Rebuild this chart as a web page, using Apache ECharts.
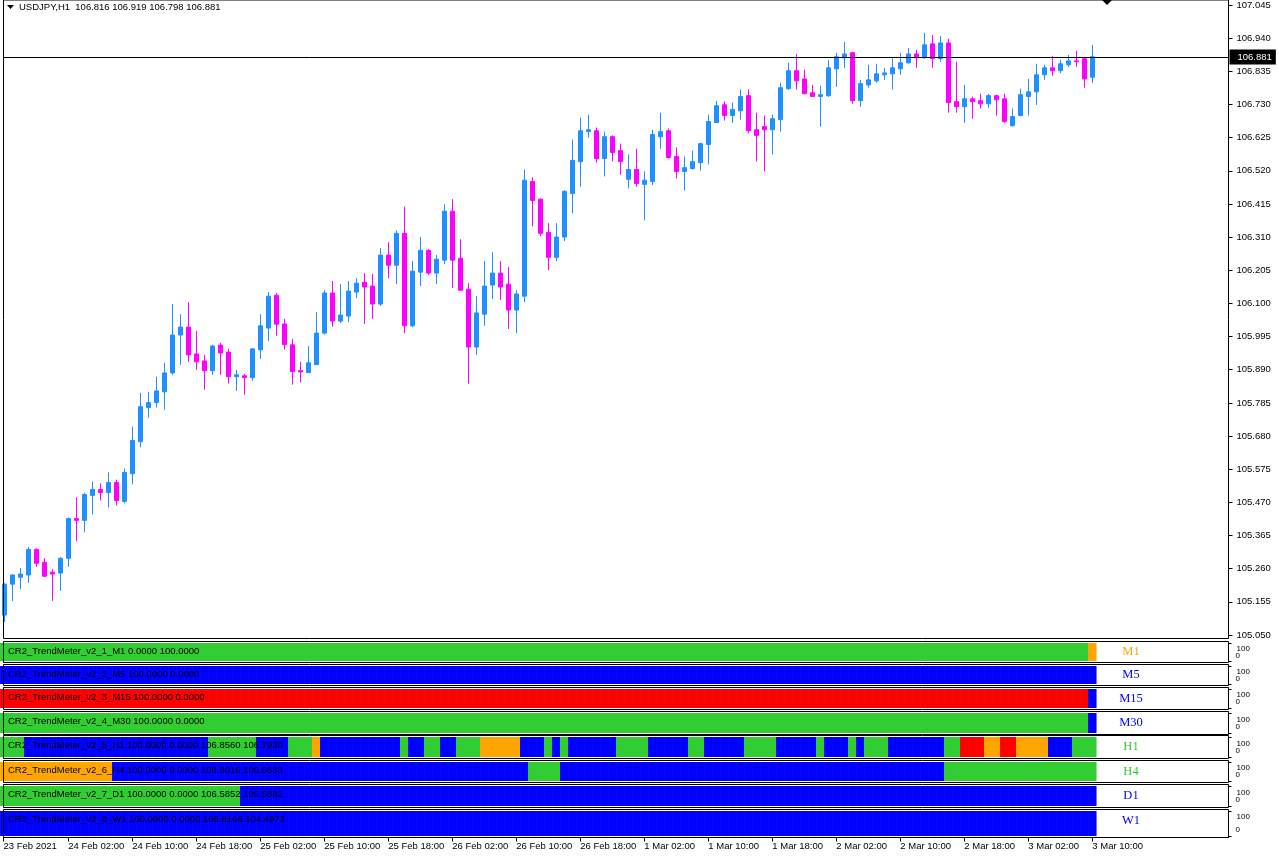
<!DOCTYPE html>
<html><head><meta charset="utf-8">
<script src="https://cdn.jsdelivr.net/npm/echarts@6/dist/echarts.min.js"></script>
<style>html,body{margin:0;padding:0;background:#fff}#c{width:1279px;height:857px}</style>
</head><body><div id="c"></div>
<script>
// ---------------- data ----------------
const symbolName = 'USDJPY,H1';
const open = [105.113,105.211,105.233,105.240,105.321,105.280,105.249,105.246,105.293,105.419,
105.413,105.492,105.511,105.501,105.533,105.473,105.561,105.662,105.770,105.786,
105.820,105.880,106.000,106.025,105.940,105.918,105.887,105.968,105.946,105.868,
105.871,105.865,105.953,106.022,106.126,106.035,105.969,105.887,105.881,105.906,
106.006,106.133,106.044,106.060,106.136,106.167,106.155,106.098,106.253,106.221,
106.322,106.029,106.199,106.268,106.196,106.237,106.392,106.243,106.145,105.962,
106.066,106.158,106.196,106.161,106.079,106.123,106.486,106.430,106.325,106.246,
106.310,106.448,106.549,106.644,106.647,106.559,106.628,106.584,106.493,106.524,
106.477,106.486,106.628,106.647,106.565,106.518,106.527,106.546,106.603,106.673,
106.729,106.695,106.710,106.758,106.650,106.660,106.650,106.682,106.780,106.837,
106.811,106.767,106.755,106.758,106.843,106.878,106.894,106.742,106.792,106.805,
106.824,106.827,106.843,106.862,106.890,106.878,106.922,106.875,106.925,106.739,
106.723,106.748,106.742,106.732,106.758,106.748,106.663,106.695,106.755,106.770,
106.824,106.846,106.837,106.856,106.868,106.875,106.816];
const high = [105.214,105.243,105.262,105.328,105.325,105.293,105.258,105.296,105.422,105.486,
105.501,105.536,105.530,105.565,105.542,105.577,105.710,105.817,105.820,105.868,
105.912,106.098,106.066,106.104,106.013,105.937,105.969,105.975,105.956,105.890,
105.877,105.959,106.066,106.136,106.133,106.051,105.988,105.915,105.965,106.073,
106.142,106.171,106.161,106.171,106.180,106.196,106.193,106.275,106.294,106.332,
106.407,106.234,106.310,106.272,106.253,106.414,106.430,106.303,106.164,106.123,
106.234,106.262,106.234,106.215,106.142,106.524,106.499,106.433,106.354,106.354,
106.458,106.619,106.688,106.698,106.657,106.644,106.632,106.606,106.572,106.590,
106.518,106.650,106.704,106.654,106.594,106.565,106.584,106.609,106.698,106.742,
106.739,106.736,106.777,106.777,106.704,106.695,106.698,106.799,106.862,106.890,
106.840,106.792,106.789,106.871,106.894,106.928,106.897,106.808,106.856,106.859,
106.846,106.881,106.894,106.909,106.903,106.957,106.950,106.947,106.938,106.865,
106.792,106.755,106.764,106.764,106.761,106.764,106.717,106.780,106.811,106.859,
106.856,106.884,106.871,106.887,106.900,106.881,106.919];
const low = [105.091,105.158,105.196,105.215,105.266,105.233,105.158,105.190,105.266,105.347,
105.375,105.432,105.476,105.454,105.460,105.467,105.527,105.644,105.738,105.770,
105.763,105.874,105.906,105.915,105.890,105.827,105.874,105.874,105.846,105.823,
105.811,105.855,105.924,105.981,105.998,105.954,105.843,105.850,105.880,105.905,
106.001,106.026,106.038,106.041,106.117,106.035,106.051,106.092,106.180,106.161,
106.006,106.025,106.155,106.190,106.161,106.224,106.149,106.139,105.846,105.937,
106.029,106.114,106.111,106.019,106.006,106.104,106.344,106.313,106.205,106.234,
106.297,106.385,106.470,106.625,106.546,106.502,106.549,106.508,106.464,106.470,
106.363,106.475,106.590,106.559,106.496,106.458,106.524,106.521,106.540,106.672,
106.679,106.672,106.682,106.638,106.549,106.518,106.572,106.644,106.777,106.777,
106.763,106.754,106.660,106.754,106.786,106.846,106.732,106.723,106.783,106.799,
106.808,106.777,106.824,106.859,106.846,106.875,106.846,106.865,106.704,106.704,
106.672,106.685,106.717,106.720,106.695,106.672,106.660,106.692,106.695,106.729,
106.808,106.821,106.830,106.849,106.849,106.783,106.798];
const close = [105.211,105.240,105.243,105.321,105.277,105.236,105.243,105.293,105.419,105.413,
105.495,105.511,105.501,105.533,105.476,105.565,105.666,105.773,105.786,105.823,
105.880,106.000,106.025,105.937,105.915,105.887,105.965,105.943,105.868,105.874,
105.865,105.956,106.029,106.123,106.034,105.970,105.884,105.883,105.912,106.006,
106.133,106.044,106.063,106.139,106.164,106.152,106.098,106.253,106.221,106.322,
106.029,106.202,106.268,106.196,106.240,106.392,106.237,106.142,105.962,106.070,
106.155,106.196,106.152,106.079,106.130,106.490,106.426,106.322,106.246,106.310,
106.455,106.553,106.647,106.650,106.559,106.628,106.578,106.549,106.524,106.480,
106.490,106.635,106.644,106.562,106.518,106.530,106.549,106.606,106.676,106.726,
106.695,106.714,106.755,106.647,106.632,106.650,106.685,106.783,106.837,106.805,
106.764,106.755,106.761,106.846,106.881,106.890,106.742,106.796,106.808,106.827,
106.830,106.846,106.862,106.890,106.878,106.919,106.875,106.925,106.736,106.723,
106.748,106.739,106.732,106.758,106.745,106.676,106.692,106.761,106.770,106.824,
106.846,106.837,106.859,106.868,106.865,106.811,106.881];
const timeLabels = ['23 Feb 2021','24 Feb 02:00','24 Feb 10:00','24 Feb 18:00','25 Feb 02:00',
  '25 Feb 10:00','25 Feb 18:00','26 Feb 02:00','26 Feb 10:00','26 Feb 18:00','1 Mar 02:00',
  '1 Mar 10:00','1 Mar 18:00','2 Mar 02:00','2 Mar 10:00','2 Mar 18:00','3 Mar 02:00','3 Mar 10:00'];
const barsPerTimeLabel = 8;
const priceMin = 105.050, priceMax = 107.045, priceStep = 0.105;
const panelScale = ['100','0'];   // indicator windows' max / min labels

const panelNames = ['M1','M5','M15','M30','H1','H4','D1','W1'];
const panelTexts = [
  'CR2_TrendMeter_v2_1_M1 0.0000 100.0000',
  'CR2_TrendMeter_v2_2_M5 100.0000 0.0000',
  'CR2_TrendMeter_v2_3_M15 100.0000 0.0000',
  'CR2_TrendMeter_v2_4_M30 100.0000 0.0000',
  'CR2_TrendMeter_v2_5_H1 100.0000 0.0000 106.8560 106.7930',
  'CR2_TrendMeter_v2_6_H4 100.0000 0.0000 106.8016 106.6633',
  'CR2_TrendMeter_v2_7_D1 100.0000 0.0000 106.5852 105.5882',
  'CR2_TrendMeter_v2_8_W1 100.0000 0.0000 105.8166 104.4973'];
const panelNameColors = ['#FFA500','#0000FF','#0000FF','#0000FF','#32CD32','#32CD32','#0000FF','#0000FF'];
// trend state per bar, run-length: [state, number of bars]
const runsM1  = [['G',136],['O',1]];
const runsM5  = [['B',137]];
const runsM15 = [['R',136],['B',1]];
const runsM30 = [['G',136],['B',1]];
const runsH1  = [['G',3],['B',23],['G',6],['B',4],['G',3],['O',1],['B',10],['G',1],['B',2],['G',2],
  ['B',2],['G',3],['O',5],['B',3],['G',1],['B',1],['G',1],['B',6],['G',4],['B',5],['G',2],['B',5],
  ['G',4],['B',5],['G',1],['B',3],['G',1],['B',1],['G',3],['B',7],['G',2],['R',3],['O',2],['R',2],
  ['O',4],['B',3],['G',3]];
const runsH4  = [['O',14],['B',52],['G',4],['B',48],['G',19]];
const runsD1  = [['G',30],['B',107]];
const runsW1  = [['B',137]];
const panelRuns = [runsM1,runsM5,runsM15,runsM30,runsH1,runsH4,runsD1,runsW1];
const stateColors = {G:'#32CD32', B:'#0000FF', R:'#FF0000', O:'#FFA500'};

// ---------------- layout ----------------
const FONT = 'Liberation Sans';
const GL = 3.5, GR = 50.5;               // grid box edges at x = 3.5 and 1228.5
const xMin = -0.1, xMax = 153.025;       // 8 px per bar
const panelTop = [641.5,664.5,687.5,711.5,735.5,760.5,784.5,809.5];
const panelH   = [21,21,22,23,23,22,23,28];

function expand(runs){ const out=[]; runs.forEach(([s,n])=>{for(let k=0;k<n;k++) out.push(s);}); return out; }
function hiddenX(gi){ return {type:'value', gridIndex:gi, min:xMin, max:xMax, show:false, axisLine:{onZero:false}, splitLine:{show:false}}; }

const grids=[], xAxes=[], yAxes=[], series=[], graphics=[];
// main frame
grids.push({left:GL, right:GR, top:-0.5, height:639, show:true, z:5, borderColor:'#000', borderWidth:1, backgroundColor:'transparent'});
xAxes.push(hiddenX(0));
yAxes.push({type:'value', gridIndex:0, show:false, axisLine:{onZero:false}, splitLine:{show:false}});
// main price grid
grids.push({left:GL, right:GR, top:3, height:632});
xAxes.push(hiddenX(1));
yAxes.push({type:'value', gridIndex:1, position:'right', min:priceMin, max:priceMax, interval:priceStep,
  axisLine:{show:false, onZero:false}, axisTick:{show:true, length:4, lineStyle:{color:'#000'}},
  axisLabel:{color:'#000', fontSize:9.5, fontFamily:FONT, margin:8, formatter:v=>v.toFixed(3)},
  splitLine:{show:false}});
const last = close.length-1;
series.push({type:'candlestick', xAxisIndex:1, yAxisIndex:1, barWidth:4, animation:false, silent:true,
  encode:{x:0, y:[1,2,3,4]},
  data: open.map((o,i)=>[i,o,close[i],low[i],high[i]]),
  itemStyle:{color:'#1E90FF', color0:'#FF00FF', borderColor:'#1E90FF', borderColor0:'#FF00FF', borderColorDoji:'#1E90FF', borderWidth:1},
  markLine:{silent:true, symbol:['none','none'], animation:false,
    lineStyle:{color:'#000', width:1, type:'solid'},
    label:{position:'end', distance:1, formatter:()=>close[last].toFixed(3), backgroundColor:'#000', color:'#fff',
      fontSize:9.5, fontFamily:FONT, padding:[3,4,2,8]},
    data:[{yAxis:close[last]}]}
});
// indicator panels
const timeTickValues = timeLabels.map((_,k)=> k===0 ? xMin : k*barsPerTimeLabel);
panelTop.forEach((t,p)=>{
  const gi = p+2, h = panelH[p], m = 150/(h-3);
  const lh = p===7 ? 12.5 : 7;
  grids.push({left:GL, right:GR, top:t, height:h, show:true, z:5, borderColor:'#000', borderWidth:1, backgroundColor:'transparent'});
  if (p === 7) {
    xAxes.push({type:'value', gridIndex:gi, min:xMin, max:xMax, position:'bottom',
      axisLine:{show:true, onZero:false, lineStyle:{color:'#000'}},
      axisTick:{show:true, length:4, customValues:timeTickValues, lineStyle:{color:'#000'}},
      axisLabel:{show:true, customValues:timeTickValues, showMinLabel:true, showMaxLabel:true,
        align:'left', margin:4, fontSize:9.5, fontFamily:FONT, color:'#000',
        formatter:v=>{const k=Math.round(v/barsPerTimeLabel); return (k>=0 && k<timeLabels.length)? timeLabels[k] : '';}},
      splitLine:{show:false}});
  } else xAxes.push(hiddenX(gi));
  yAxes.push({type:'value', gridIndex:gi, position:'right', min:-m, max:100+m,
    axisLine:{show:false, onZero:false},
    axisTick:{show:true, length:3, customValues:[0,100], lineStyle:{color:'#000'}},
    axisLabel:{customValues:[50], margin:7, color:'#000',
      formatter:()=> '{t|'+panelScale[0]+'}\n{b|'+panelScale[1]+'}',
      rich:{t:{fontSize:8, fontFamily:FONT, color:'#000', lineHeight:lh, padding:[0,0,0,1]},
            b:{fontSize:8, fontFamily:FONT, color:'#000', lineHeight:lh}}},
    splitLine:{show:false}});
  const states = expand(panelRuns[p]);
  series.push({type:'bar', xAxisIndex:gi, yAxisIndex:gi, barWidth:8.5, animation:false, silent:true,
    data: states.map((s,i)=>({value:[i,100], itemStyle:{color:stateColors[s]}}))});
  graphics.push({type:'text', x:8, y:t+9.5, z:10, style:{text:panelTexts[p], fill:'#000', font:'9.5px "'+FONT+'"', verticalAlign:'middle'}});
  graphics.push({type:'text', x:1131, y:t+(p===7?11.5:h/2), z:10, style:{text:panelNames[p], fill:panelNameColors[p], font:'12.5px "Liberation Serif"', align:'center', verticalAlign:'middle'}});
});
// header
graphics.push({type:'polygon', z:10, shape:{points:[[7,5],[14,5],[10.5,9]]}, style:{fill:'#000'}});
graphics.push({type:'text', x:19, y:7, z:10, style:{text:symbolName+'  '+open[last].toFixed(3)+' '+high[last].toFixed(3)+' '+low[last].toFixed(3)+' '+close[last].toFixed(3), fill:'#000', font:'9.5px "'+FONT+'"', verticalAlign:'middle'}});
graphics.push({type:'polygon', z:10, shape:{points:[[1102,0],[1112,0],[1107,5]]}, style:{fill:'#000'}});

const chart = echarts.init(document.getElementById('c'), null, {renderer:'canvas'});
chart.setOption({animation:false, backgroundColor:'#fff', grid:grids, xAxis:xAxes, yAxis:yAxes, series:series, graphic:graphics});
</script></body></html>
